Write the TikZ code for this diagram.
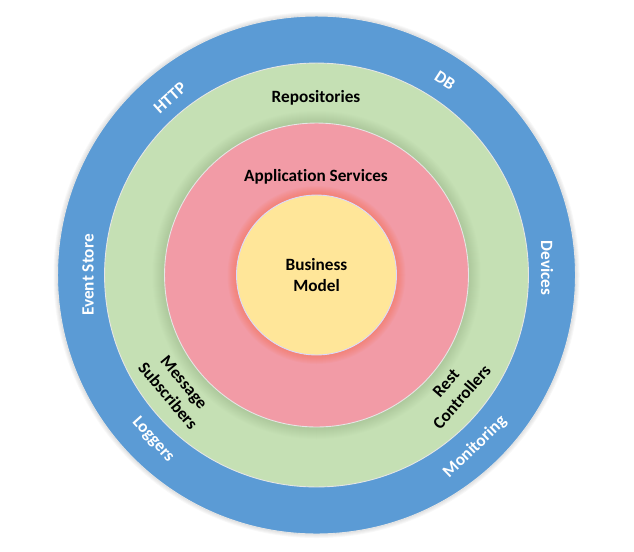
\documentclass[tikz,border=0pt]{standalone}
\usepackage{fontspec}
\setmainfont{Carlito}[Ligatures=NoCommon]
\usepackage{tikz}
\definecolor{infrablue}{RGB}{91,155,213}
\definecolor{adaptgreen}{RGB}{197,224,180}
\definecolor{apppink}{RGB}{242,155,166}
\definecolor{coreyellow}{RGB}{255,230,153}

\begin{document}
\begin{tikzpicture}[x=0.02cm,y=-0.02cm,
  layer/.style={circle,inner sep=0pt,draw=white!80!gray,line width=0.5pt},
  label/.style={font=\fontsize{9.8}{12}\selectfont\bfseries,align=center,text=black},
  outlabel/.style={label,text=white}]
\useasboundingbox (0,0) rectangle (634,551);
\coordinate (c) at (316.5,275);
\foreach \k in {1,...,4} \fill[gray,opacity=0.06] (c) circle ({259+\k});
\node[layer,fill=infrablue,minimum size=10.36cm] (infra) at (c) {};
\node[layer,fill=adaptgreen,minimum size=8.48cm] (adapt) at (c) {};
\foreach \k in {1,...,12} \fill[gray!80!green,opacity=0.02] (c) circle ({152+\k});
\node[layer,fill=apppink,minimum size=6.08cm] (app) at (c) {};
\foreach \k in {1,...,9} \fill[orange!60!red,opacity=0.03] (c) circle ({80+\k});
\node[layer,draw=blue!15!white,fill=coreyellow,minimum size=3.2cm] (core) at (c) {};

\node[label] (repo) at (316,98) {Repositories};
\node[label] (services) at (316,177) {Application Services};
\node[label] (model) at (c) {Business\\Model};
\node[label,rotate=-50] (subscribers) at (176,389) {Message\\Subscribers};
\node[label,rotate=49] (controllers) at (454,390) {Rest\\Controllers};

\node[outlabel,rotate=42] (http) at (170,98) {HTTP};
\node[outlabel,rotate=-33] (db) at (445,80) {DB};
\node[outlabel,rotate=-90] (devices) at (547,268) {Devices};
\node[outlabel,rotate=90] (eventstore) at (88,275) {Event Store};
\node[outlabel,rotate=-48] (loggers) at (153,440) {Loggers};
\node[outlabel,rotate=44] (monitoring) at (475,447) {Monitoring};
\end{tikzpicture}
\end{document}
